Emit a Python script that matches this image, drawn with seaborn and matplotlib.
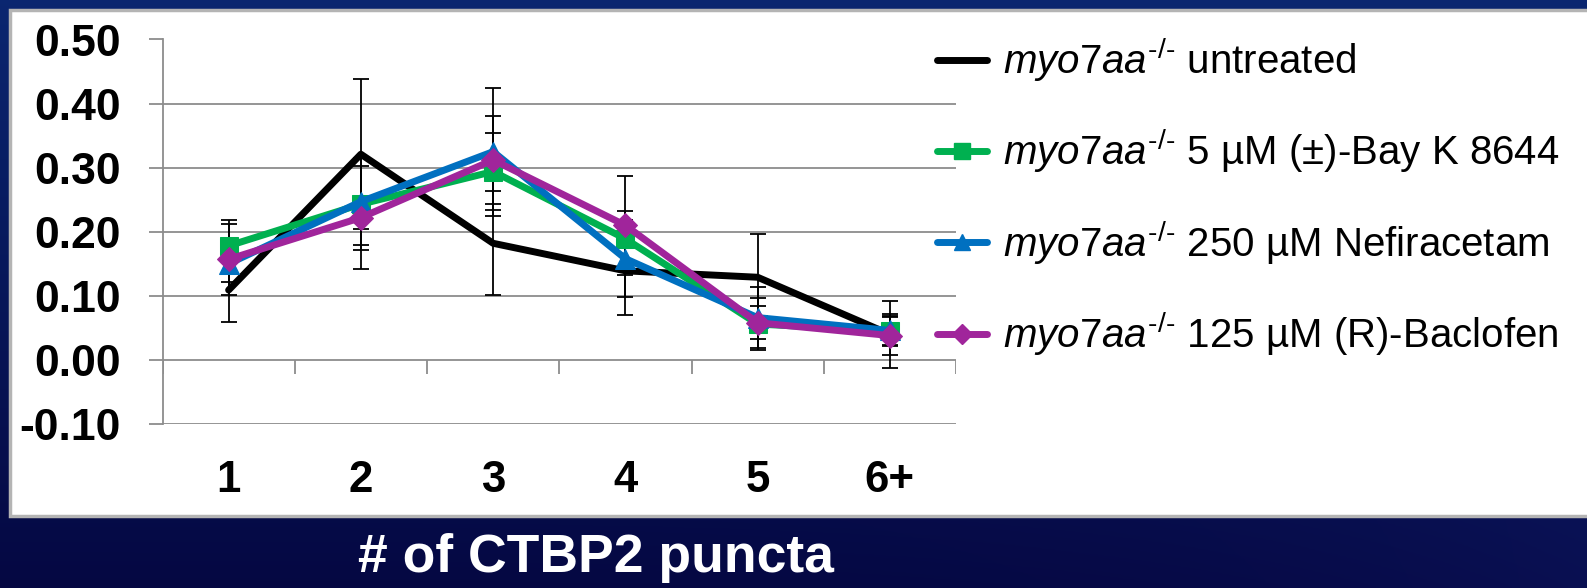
import numpy as np
import pandas as pd
import matplotlib
matplotlib.use("Agg")
import matplotlib.pyplot as plt
from matplotlib.lines import Line2D
from matplotlib.patches import Rectangle
import seaborn as sns

# ---------------- data ----------------
categories = ["1", "2", "3", "4", "5", "6+"]
series_names = ["untreated", "bayk", "nefi", "bacl"]
legend_labels = [
    r"$\mathit{myo7aa}^{\text{-/-}}$ untreated",
    r"$\mathit{myo7aa}^{\text{-/-}}$ 5 µM (±)-Bay K 8644",
    r"$\mathit{myo7aa}^{\text{-/-}}$ 250 µM Nefiracetam",
    r"$\mathit{myo7aa}^{\text{-/-}}$ 125 µM (R)-Baclofen",
]
untreated = [0.109, 0.321, 0.182, 0.139, 0.129, 0.040]
untreated_err = [0.050, 0.117, 0.081, 0.069, 0.068, 0.052]
bayk = [0.178, 0.243, 0.294, 0.189, 0.056, 0.045]
bayk_err = [0.040, 0.072, 0.060, 0.043, 0.040, 0.022]
nefi = [0.150, 0.247, 0.325, 0.158, 0.066, 0.046]
nefi_err = [0.028, 0.068, 0.100, 0.060, 0.048, 0.025]
bacl = [0.157, 0.222, 0.312, 0.210, 0.058, 0.038]
bacl_err = [0.055, 0.080, 0.069, 0.077, 0.026, 0.030]
ytick_vals = [-0.10, 0.00, 0.10, 0.20, 0.30, 0.40, 0.50]
ytick_labels = ["-0.10", "0.00", "0.10", "0.20", "0.30", "0.40", "0.50"]
xlabel = "# of CTBP2 puncta"

values = [untreated, bayk, nefi, bacl]
errors = [untreated_err, bayk_err, nefi_err, bacl_err]
colors = ["#000000", "#00B050", "#0070C0", "#A0259B"]
markers = [None, "s", "^", "D"]
msizes = [0, 13, 14, 12]

# ---------------- style ----------------
sns.set_theme(style="white")
plt.rcParams["font.family"] = ["Liberation Sans", "DejaVu Sans"]
plt.rcParams["text.color"] = "black"
plt.rcParams["mathtext.fontset"] = "custom"
plt.rcParams["mathtext.rm"] = "Liberation Sans"
plt.rcParams["mathtext.it"] = "Liberation Sans:italic"
plt.rcParams["mathtext.bf"] = "Liberation Sans:bold"

W, H = 1587, 588
fig = plt.figure(figsize=(W / 100, H / 100), dpi=100)

# background gradient
bg = fig.add_axes([0, 0, 1, 1], zorder=-10)
yy = np.linspace(0, 1, 256)[:, None]
xx = np.linspace(0, 1, 256)[None, :]
top = np.array([0.04, 0.15, 0.44])
bot = np.array([0.02, 0.03, 0.26])
t = yy + 0 * xx
img = bot[None, None, :] * (1 - t[..., None]) + top[None, None, :] * t[..., None]
img = img + 0.06 * (xx[..., None] ** 4) * np.array([0.3, 0.5, 1.0])[None, None, :] * (1 - t[..., None])
bg.imshow(np.clip(img, 0, 1), extent=[0, 1, 0, 1], origin="lower", aspect="auto")
bg.set_axis_off()

# white panel
panel = Rectangle((10 / W, 1 - 516 / H), 1.2, 506 / H, transform=fig.transFigure,
                  facecolor="white", edgecolor="#b4b4b4", lw=2.5, zorder=-5)
fig.patches.append(panel)

# main axes
ax = fig.add_axes([162.5 / W, 1 - 424 / H, (956 - 162.5) / W, (424 - 39.5) / H])
ax.set_facecolor("none")

positions = np.arange(len(categories))
for vals, errs in zip(values, errors):
    ax.errorbar(positions, vals, yerr=errs, fmt="none", ecolor="black",
                elinewidth=1.3, capsize=5.5, capthick=1.3, zorder=3)

for name, vals, c, m, ms in zip(series_names, values, colors, markers, msizes):
    df = pd.DataFrame({"cat": categories, "val": vals})
    kw = dict(marker=m, markersize=ms, markeredgecolor=c, markerfacecolor=c) if m else {}
    sns.lineplot(data=df, x="cat", y="val", color=c, linewidth=5, sort=False,
                 ax=ax, legend=False, zorder=4, **kw)

ax.set_xlim(-0.5, len(categories) - 0.5)
ax.set_ylim(-0.1, 0.5)
ax.set_yticks(ytick_vals)
ax.set_yticklabels(ytick_labels)
ax.set_xticks(positions)
ax.set_xticklabels(categories)
ax.set_xlabel("")
ax.set_ylabel("")
ax.yaxis.grid(True, color="#8c8c8c", lw=1.3)
ax.xaxis.grid(False)
ax.set_axisbelow(True)
for s in ["top", "right", "bottom"]:
    ax.spines[s].set_visible(False)
ax.spines["left"].set_color("#8c8c8c")
ax.spines["left"].set_linewidth(1.3)
ax.tick_params(axis="y", length=10, width=1.3, color="#8c8c8c", pad=20,
               labelsize=32, direction="out", left=True)
ax.tick_params(axis="x", length=0, pad=26, labelsize=31.5)
for lab in ax.get_yticklabels() + ax.get_xticklabels():
    lab.set_fontweight("bold")
    lab.set_color("black")

# category-boundary tick marks on the zero line
ax.vlines(np.arange(len(categories) + 1) - 0.5, -0.022, 0, color="#8c8c8c", lw=1.3, zorder=1)

# legend
handles = []
for c, m, ms in zip(colors, markers, msizes):
    handles.append(Line2D([], [], color=c, lw=5, marker=m if m else None,
                          markersize=ms * 0.85, markerfacecolor=c, markeredgecolor=c))
leg = ax.legend(handles, legend_labels, loc="upper left",
                bbox_to_anchor=(937 / W, 1 - 36 / H), bbox_transform=fig.transFigure,
                frameon=False, fontsize=29, handlelength=1.24, handletextpad=0.4,
                labelspacing=1.06, borderpad=0, borderaxespad=0)
for txt in leg.get_texts():
    txt.set_color("black")

fig.text(596 / W, 1 - 558 / H, xlabel, color="white", fontsize=38.5,
         fontweight="bold", ha="center", va="center")

fig.savefig("out.png", dpi=100)
